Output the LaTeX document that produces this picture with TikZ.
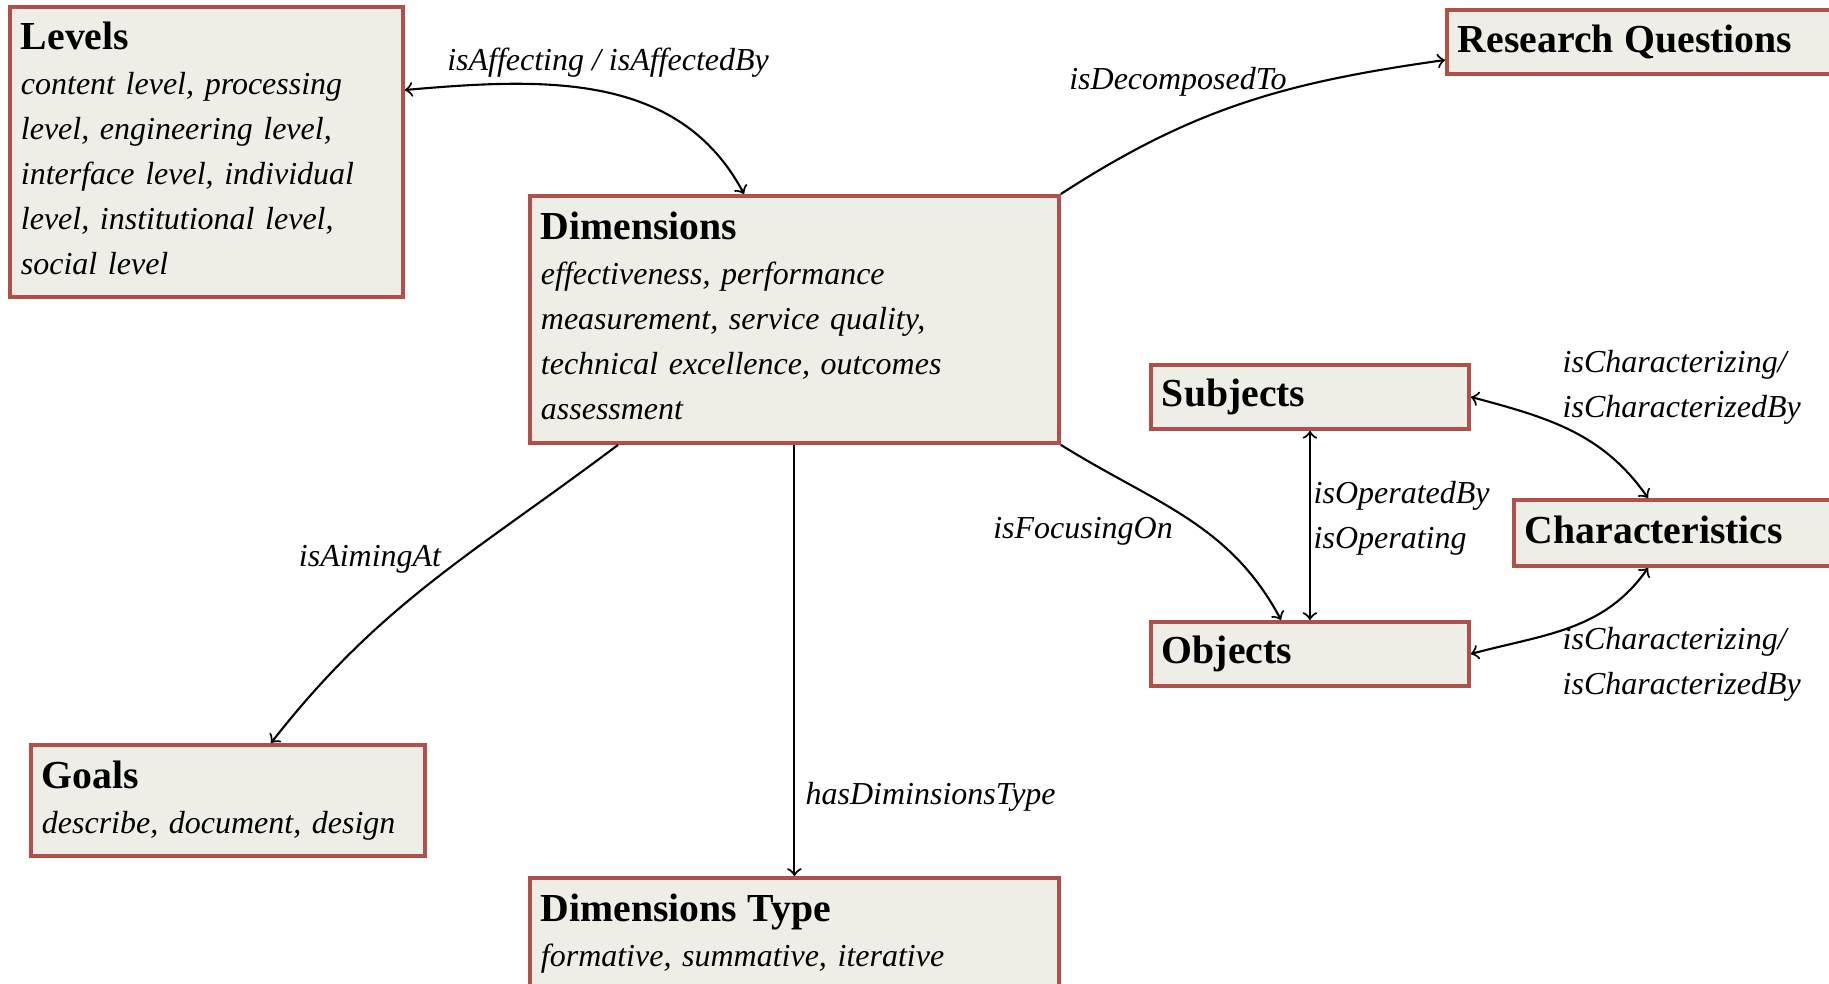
\documentclass[tikz,border=0pt]{standalone}
\usepackage{fontspec}
\setmainfont{Liberation Serif}
\usepackage{tikz}
\usetikzlibrary{calc, arrows}
\definecolor{boxfill}{HTML}{EFEEE6}
\definecolor{boxline}{HTML}{B0504A}
\newcommand{\boxhead}[1]{{\fontsize{11.3}{12.8}\selectfont\bfseries\upshape #1}}

\begin{document}
\begin{tikzpicture}[x=0.1mm,y=-0.1mm,inner ysep=0pt,inner xsep=1.1mm,>=to,
  box/.style={draw=boxline,line width=1.1pt,fill=boxfill,anchor=north west,align=left,font=\fontsize{9.1}{12.8}\selectfont\itshape},
  lift/.style={execute at end node={\vspace{0.7mm}}},
  lbl/.style={font=\fontsize{9.1}{12.8}\selectfont\itshape,align=left,inner sep=0pt},
  link/.style={line width=0.6pt}]%
\useasboundingbox (0,0) rectangle (1829,983);
\node [box,lift,text width=37.1mm,minimum height=29mm] (Levels) at (8,5) {\boxhead{Levels}\\content level, processing\\level, engineering level,\\interface level, individual\\level, institutional level,\\social level};
\node [box,lift,text width=50.7mm,minimum height=24.7mm] (Dimensions) at (528,194) {\boxhead{Dimensions}\\effectiveness, performance\\measurement, service quality,\\technical excellence, outcomes\\assessment};
\node [box,text width=40mm,minimum height=6.4mm] (RQ) at (1445,8) {\boxhead{Research Questions}};
\node [box,text width=29.6mm,minimum height=6.4mm] (Subjects) at (1149,363) {\boxhead{Subjects}};
\node [box,lift,text width=29.6mm,minimum height=6.6mm] (Characteristics) at (1512,498) {\boxhead{Characteristics}};
\node [box,text width=29.6mm,minimum height=6.4mm] (Objects) at (1149,620) {\boxhead{Objects}};
\node [box,text width=37.2mm,minimum height=11.1mm] (Goals) at (29,743) {\boxhead{Goals}\\describe, document, design};
\node [box,text width=50.7mm,minimum height=11.1mm] (DimType) at (528,876) {\boxhead{Dimensions Type}\\formative, summative, iterative};
% relations
\draw [link,<->] ($ (Levels.north east) + (0,85) $) to[out=5,in=118] ($ (Dimensions.north west) + (216,0) $);
\draw [link,->] (Dimensions.north east) to[out=33,in=188] ($ (RQ.north west) + (0,52) $);
\draw [link,->] ($ (Dimensions.south west) + (90,0) $) to[out=-143,in=52] ($ (Goals.north west) + (242,0) $);
\draw [link,->] (Dimensions.south) -- (DimType.north);
\draw [link,->] (Dimensions.south east) to[out=-32,in=118] ($ (Objects.north west) + (132,0) $);
\draw [link,<->] (Subjects.south) -- (Objects.north);
\draw [link,<->] (Subjects.east) to[out=-15,in=125] ($ (Characteristics.north west) + (136,0) $);
\draw [link,<->] (Objects.east) to[out=15,in=-125] ($ (Characteristics.south west) + (136,0) $);
\node [lbl] (affLbl) at (608,63) {isAffecting / isAffectedBy};
\node [lbl] (decLbl) at (1178,82) {isDecomposedTo};
\node [lbl] (aimLbl) at (370,559) {isAimingAt};
\node [lbl,anchor=west] (typeLbl) at (805,797) {hasDiminsionsType};
\node [lbl] (focLbl) at (1083,531) {isFocusingOn};
\node [lbl,anchor=west] (opLbl) at (1313,518) {isOperatedBy\\isOperating};
\node [lbl,anchor=west] (charLblA) at (1562,387) {isCharacterizing/\\isCharacterizedBy};
\node [lbl,anchor=west] (charLblB) at (1562,664) {isCharacterizing/\\isCharacterizedBy};
\end{tikzpicture}
\end{document}
